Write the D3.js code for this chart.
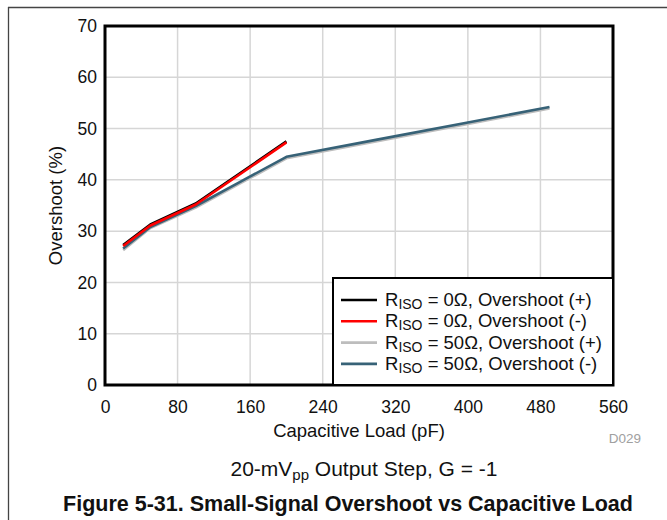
<!DOCTYPE html>
<html><head><meta charset="utf-8">
<script src="https://cdn.jsdelivr.net/npm/d3@7"></script>
<style>
html,body{margin:0;padding:0;background:#fff;}
svg{display:block;font-family:"Liberation Sans",Arial,sans-serif;}
</style></head>
<body><svg id="c" width="667" height="520"></svg>
<script>
// ---- data ----
const xTicks = [0, 80, 160, 240, 320, 400, 480, 560];
const yTicks = [0, 10, 20, 30, 40, 50, 60, 70];
const loadR0 = [20, 50, 100, 200];
const overshootR0Pos = [27.3, 31.3, 35.4, 47.5];
const overshootR0Neg = [27.1, 31.1, 35.2, 47.3];
const loadR50 = [20, 50, 100, 150, 200, 300, 400, 490];
const overshootR50Pos = [26.3, 30.6, 34.6, 39.4, 44.2, 47.55, 50.9, 53.9];
const overshootR50Neg = [26.6, 30.8, 34.9, 39.7, 44.5, 47.85, 51.2, 54.2];
const seriesNames = ["0Ω, Overshoot (+)", "0Ω, Overshoot (-)", "50Ω, Overshoot (+)", "50Ω, Overshoot (-)"];
const seriesColors = ["#000000", "#ff0000", "#bdbdbd", "#376277"];

const svg = d3.select("#c");
const L = 105, R = 613, T = 26, B = 385;
const x = d3.scaleLinear().domain([0, 560]).range([L, R]);
const y = d3.scaleLinear().domain([0, 70]).range([B, T]);

// outer frame
svg.append("line").attr("x1", 8).attr("x2", 667).attr("y1", 7.5).attr("y2", 7.5).attr("stroke", "#444").attr("stroke-width", 1.3);
svg.append("line").attr("x1", 8.5).attr("x2", 8.5).attr("y1", 7).attr("y2", 520).attr("stroke", "#444").attr("stroke-width", 1.3);

// grid
svg.append("g").selectAll("line").data(xTicks.slice(1, -1)).join("line")
  .attr("x1", d => x(d)).attr("x2", d => x(d)).attr("y1", T).attr("y2", B)
  .attr("stroke", "#d6d6d6").attr("stroke-width", 1.5);
svg.append("g").selectAll("line").data(yTicks.slice(1, -1)).join("line")
  .attr("y1", d => y(d)).attr("y2", d => y(d)).attr("x1", L).attr("x2", R)
  .attr("stroke", "#d6d6d6").attr("stroke-width", 1.5);

// axes (labels only)
const xAxis = svg.append("g").attr("transform", `translate(0,${B})`)
  .call(d3.axisBottom(x).tickValues(xTicks).tickSize(0).tickPadding(16));
const yAxis = svg.append("g").attr("transform", `translate(${L},0)`)
  .call(d3.axisLeft(y).tickValues(yTicks).tickSize(0).tickPadding(8));
[xAxis, yAxis].forEach(a => {
  a.select(".domain").remove();
  a.selectAll("text").attr("font-size", 17.5).attr("fill", "#111").attr("font-family", "Liberation Sans, Arial, sans-serif");
});

// lines
const line = d3.line().x(d => x(d[0])).y(d => y(d[1]));
const series = [
  [loadR50, overshootR50Pos, 2],
  [loadR50, overshootR50Neg, 3],
  [loadR0, overshootR0Pos, 0],
  [loadR0, overshootR0Neg, 1]
];
series.forEach(([xs, ys, ci]) => {
  svg.append("path").datum(xs.map((v, i) => [v, ys[i]]))
    .attr("d", line).attr("fill", "none")
    .attr("stroke", seriesColors[ci]).attr("stroke-width", 2.6)
    .attr("stroke-linejoin", "round");
});

// plot border
svg.append("rect").attr("x", L).attr("y", T).attr("width", R - L).attr("height", B - T)
  .attr("fill", "none").attr("stroke", "#000").attr("stroke-width", 3);

// legend
const lg = svg.append("g");
lg.append("rect").attr("x", 333).attr("y", 278).attr("width", R - 333).attr("height", B - 278)
  .attr("fill", "#fff").attr("stroke", "#000").attr("stroke-width", 2);
seriesNames.forEach((name, i) => {
  const yy = 300 + i * 21.3;
  lg.append("line").attr("x1", 341).attr("x2", 377).attr("y1", yy).attr("y2", yy)
    .attr("stroke", seriesColors[i]).attr("stroke-width", 2.6);
  const t = lg.append("text").attr("x", 385).attr("y", yy + 6).attr("font-size", 18.5).attr("fill", "#111");
  t.append("tspan").text("R");
  t.append("tspan").attr("font-size", 14).attr("dy", 3).text("ISO");
  t.append("tspan").attr("dy", -3).text(" = " + name);
});

// titles
svg.append("text").attr("x", 359).attr("y", 437).attr("text-anchor", "middle")
  .attr("font-size", 18.5).attr("fill", "#111").text("Capacitive Load (pF)");
svg.append("text").attr("transform", `translate(62,${(T + B) / 2}) rotate(-90)`).attr("text-anchor", "middle")
  .attr("font-size", 18.5).attr("fill", "#111").text("Overshoot (%)");
svg.append("text").attr("x", 641).attr("y", 443).attr("text-anchor", "end")
  .attr("font-size", 13.5).attr("fill", "#a0a0a0").text("D029");

const sub = svg.append("text").attr("x", 364).attr("y", 476).attr("text-anchor", "middle")
  .attr("font-size", 21).attr("fill", "#111");
sub.append("tspan").text("20-mV");
sub.append("tspan").attr("font-size", 15).attr("dy", 4).text("pp");
sub.append("tspan").attr("dy", -4).text(" Output Step, G = -1");

svg.append("text").attr("x", 348).attr("y", 511).attr("text-anchor", "middle")
  .attr("font-size", 21.5).attr("font-weight", "bold").attr("fill", "#111")
  .text("Figure 5-31. Small-Signal Overshoot vs Capacitive Load");
</script></body></html>
